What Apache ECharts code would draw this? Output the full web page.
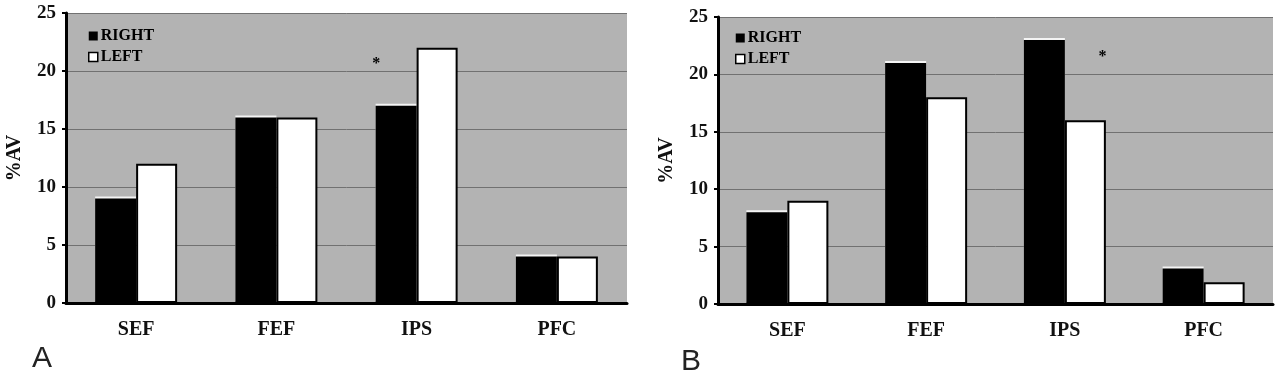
<!DOCTYPE html>
<html>
<head>
<meta charset="utf-8">
<title>%AV RIGHT / LEFT</title>
<script src="https://cdn.jsdelivr.net/npm/echarts@6.0.0/dist/echarts.min.js"></script>
<style>
html, body { margin: 0; padding: 0; background: #fff; }
#main { width: 1280px; height: 376px; }
</style>
</head>
<body>
<div id="main"></div>
<script>
// 数据
var categories = ['SEF', 'FEF', 'IPS', 'PFC'];
var seriesNames = ['RIGHT', 'LEFT'];

// 图 A
var rightA = [9, 16, 17, 4];
var leftA = [12, 16, 22, 4];
// 图 B
var rightB = [8, 21, 23, 3.1];
var leftB = [9, 18, 16, 1.9];

var yMin = 0;
var yMax = 25;
var yStep = 5;
var yName = '%AV';
var panelLabels = ['A', 'B'];
// 星号 (显著性)
var starA = ['IPS', 21];
var starB = ['IPS', 21.9];

var serif = '"Liberation Serif", "DejaVu Serif", serif';

function xAxisFor(idx) {
    return {
        type: 'category',
        gridIndex: idx,
        data: categories,
        axisLine: { lineStyle: { color: '#000', width: 3 } },
        axisTick: { show: false },
        axisLabel: {
            margin: 17,
            color: '#111',
            fontFamily: serif,
            fontWeight: 'bold',
            fontSize: 20
        }
    };
}

function yAxisFor(idx) {
    return {
        type: 'value',
        gridIndex: idx,
        min: yMin,
        max: yMax,
        interval: yStep,
        name: yName,
        nameLocation: 'middle',
        nameRotate: 90,
        nameGap: 41,
        nameTextStyle: {
            color: '#111',
            fontFamily: serif,
            fontWeight: 'bold',
            fontSize: 20
        },
        axisLine: { show: true, lineStyle: { color: '#000', width: 3 } },
        axisTick: { show: true, length: 4, lineStyle: { color: '#000', width: 2 } },
        axisLabel: {
            margin: 10,
            color: '#111',
            fontFamily: serif,
            fontWeight: 'bold',
            fontSize: 19
        },
        splitLine: { show: true, lineStyle: { color: '#717171', width: 1 } }
    };
}

function barsFor(idx, rightData, leftData, star, starOffset) {
    var black = {
        name: seriesNames[0],
        type: 'bar',
        xAxisIndex: idx,
        yAxisIndex: idx,
        data: rightData,
        barWidth: 41,
        barGap: '0%',
        itemStyle: {
            color: '#000',
            shadowColor: '#f4f4f4',
            shadowOffsetY: -2,
            shadowBlur: 0
        }
    };
    var white = {
        name: seriesNames[1],
        type: 'bar',
        xAxisIndex: idx,
        yAxisIndex: idx,
        data: leftData,
        barWidth: 41,
        barGap: '0%',
        itemStyle: {
            color: '#fff',
            borderColor: '#000',
            borderWidth: 2
        }
    };
    var mp = {
        symbol: 'circle',
        symbolSize: 1,
        itemStyle: { color: 'rgba(0,0,0,0)' },
        label: {
            show: true,
            position: 'inside',
            formatter: '*',
            offset: starOffset,
            color: '#000',
            fontFamily: serif,
            fontWeight: 'bold',
            fontSize: 16
        },
        data: [{ coord: star }]
    };
    if (idx == 0) {
        black.markPoint = mp;
    } else {
        white.markPoint = mp;
    }
    return [black, white];
}

function legendFor(left, top) {
    return {
        orient: 'vertical',
        left: left,
        top: top,
        itemWidth: 9,
        itemHeight: 9,
        itemGap: 5,
        padding: 0,
        selectedMode: false,
        textStyle: {
            color: '#000',
            fontFamily: serif,
            fontWeight: 'bold',
            fontSize: 16,
            padding: [0, 0, 0, -2]
        },
        data: [
            { name: seriesNames[0], icon: 'rect', itemStyle: { color: '#000', borderWidth: 0, shadowBlur: 0, shadowOffsetY: 0 } },
            { name: seriesNames[1], icon: 'rect', itemStyle: { color: '#fff', borderColor: '#000', borderWidth: 1.5 } }
        ]
    };
}

var myChart = echarts.init(document.getElementById('main'));
myChart.setOption({
    animation: false,
    backgroundColor: '#fff',
    grid: [
        { left: 66, top: 13, width: 561, height: 290, show: true, backgroundColor: '#b3b3b3', borderWidth: 0 },
        { left: 718, top: 17, width: 555, height: 287, show: true, backgroundColor: '#b3b3b3', borderWidth: 0 }
    ],
    legend: [legendFor(88, 28), legendFor(735, 30)],
    xAxis: [xAxisFor(0), xAxisFor(1)],
    yAxis: [yAxisFor(0), yAxisFor(1)],
    graphic: [
        {
            type: 'text', left: 32, top: 344,
            style: { text: panelLabels[0], fill: '#222', font: '30px "Liberation Sans", Arial, sans-serif' }
        },
        {
            type: 'text', left: 681, top: 347,
            style: { text: panelLabels[1], fill: '#222', font: '30px "Liberation Sans", Arial, sans-serif' }
        }
    ],
    series: barsFor(0, rightA, leftA, starA, [-20, 4]).concat(barsFor(1, rightB, leftB, starB, [17, 4]))
});
</script>
</body>
</html>
